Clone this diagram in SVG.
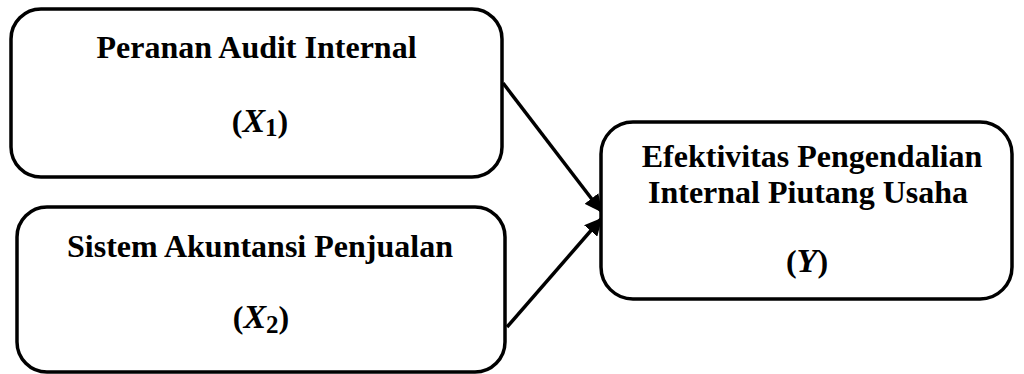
<svg xmlns="http://www.w3.org/2000/svg" width="1024" height="374" viewBox="0 0 1024 374">
<style>
.box{fill:#fff;stroke:#000;stroke-width:3.5}
.t{font-family:"Liberation Serif","Times New Roman",serif;font-weight:bold;font-size:32px;fill:#000;text-anchor:middle}
.m{font-style:italic;font-size:34px}
.sub{font-size:25px;font-style:normal}
.conn{stroke:#000;stroke-width:3.5;fill:none}
</style>
<defs>
<marker id="arr" viewBox="0 0 10 10" refX="9" refY="5" markerWidth="5" markerHeight="5" orient="auto" markerUnits="strokeWidth">
<path d="M0,0 L10,5 L0,10 z" fill="#000"/>
</marker>
</defs>
<rect width="1024" height="374" fill="#fff"/>
<g id="connectors">
<line class="conn" x1="503" y1="83" x2="601" y2="211" marker-end="url(#arr)"/>
<line class="conn" x1="507" y1="327" x2="601" y2="219" marker-end="url(#arr)"/>
</g>
<g id="node-x1">
<rect class="box" x="11" y="9" width="491" height="168" rx="30" ry="30"/>
<text class="t" x="256.5" y="58">Peranan Audit Internal</text>
<text class="t" x="260" y="132">(<tspan class="m">X</tspan><tspan class="sub" dy="4">1</tspan><tspan dy="-4">)</tspan></text>
</g>
<g id="node-x2">
<rect class="box" x="17" y="207" width="488" height="165" rx="30" ry="30"/>
<text class="t" x="260" y="257">Sistem Akuntansi Penjualan</text>
<text class="t" x="261" y="328">(<tspan class="m">X</tspan><tspan class="sub" dy="5">2</tspan><tspan dy="-5">)</tspan></text>
</g>
<g id="node-y">
<rect class="box" x="601" y="122" width="411" height="177" rx="32" ry="32"/>
<text class="t" x="812" y="167">Efektivitas Pengendalian</text>
<text class="t" x="808" y="203">Internal Piutang Usaha</text>
<text class="t" x="807" y="272">(<tspan class="m">Y</tspan>)</text>
</g>
</svg>
